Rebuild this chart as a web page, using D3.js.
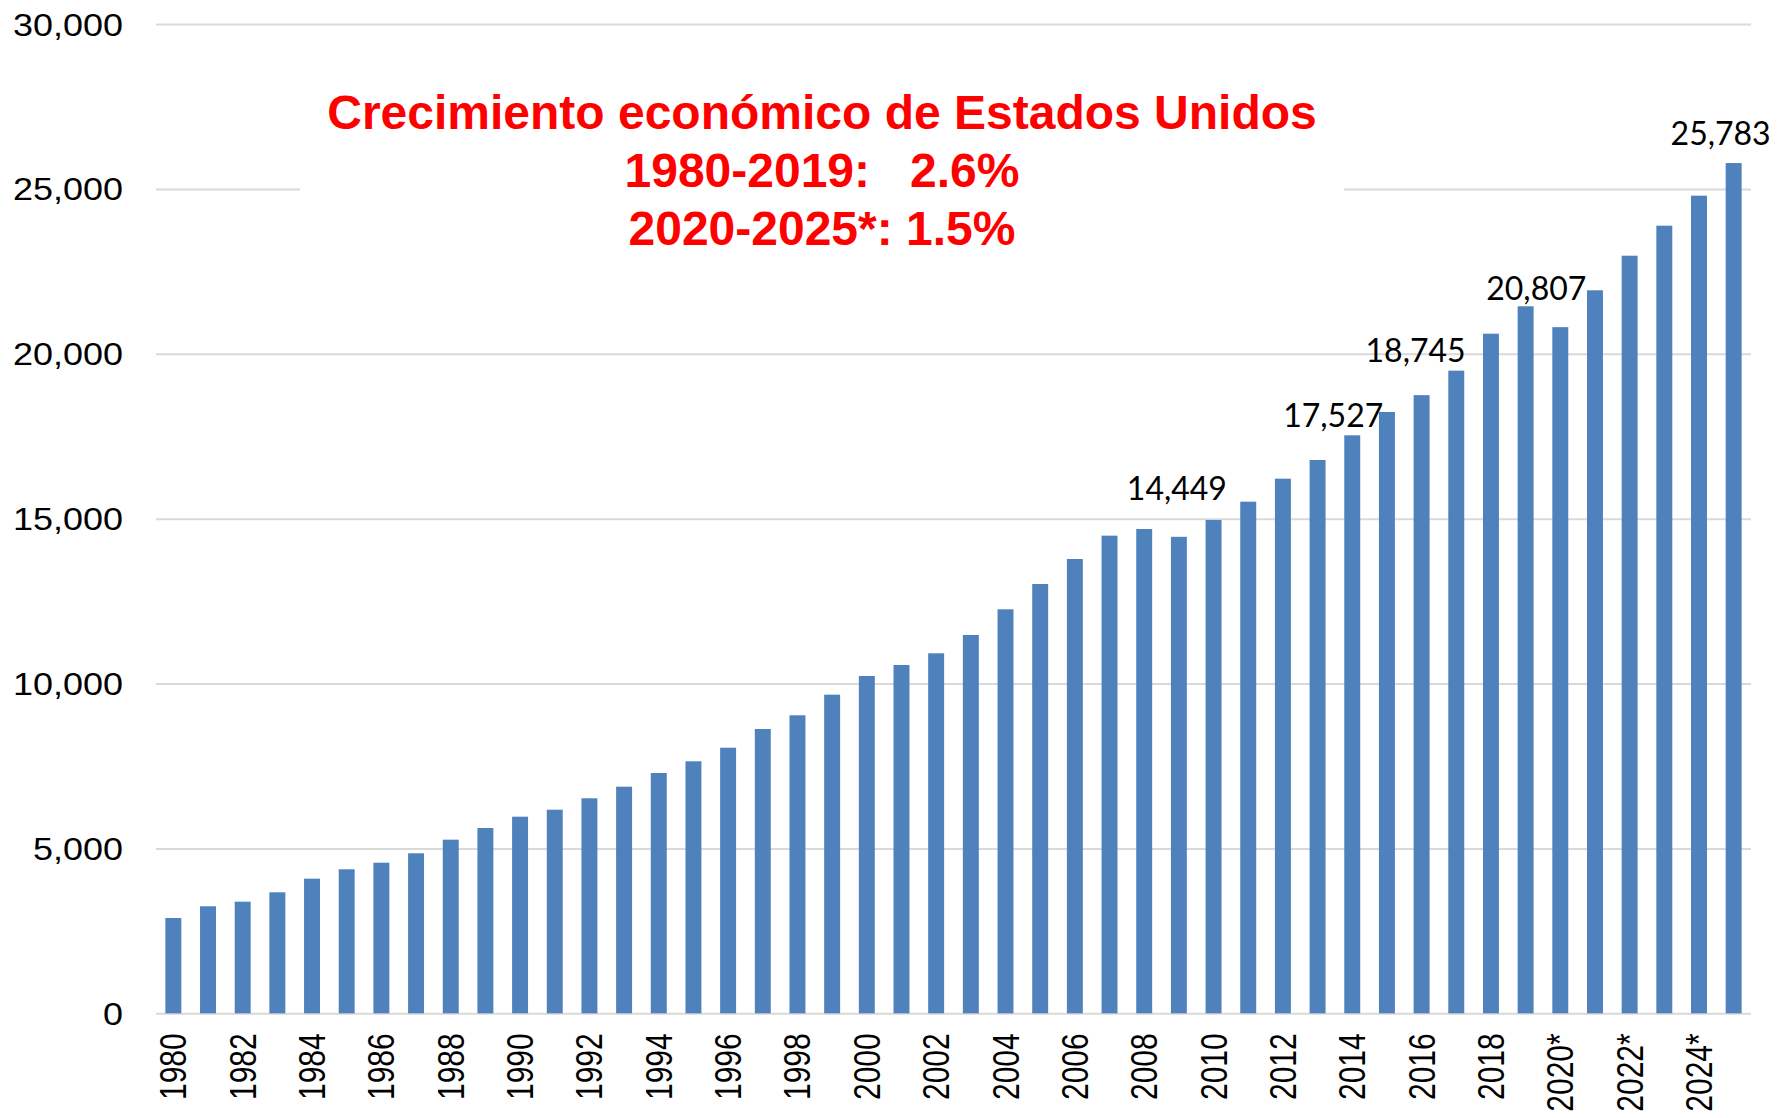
<!DOCTYPE html>
<html>
<head>
<meta charset="utf-8">
<script src="https://cdn.jsdelivr.net/npm/d3@7"></script>
<style>
  html, body { margin: 0; padding: 0; background: #ffffff; }
  svg { display: block; }
  text { white-space: pre; }
</style>
</head>
<body>
<svg id="chart" width="1786" height="1118"></svg>
<script>
// US GDP, billions of current dollars (* = estimate)
const years = ["1980","1981","1982","1983","1984","1985","1986","1987","1988","1989",
  "1990","1991","1992","1993","1994","1995","1996","1997","1998","1999",
  "2000","2001","2002","2003","2004","2005","2006","2007","2008","2009",
  "2010","2011","2012","2013","2014","2015","2016","2017","2018","2019",
  "2020*","2021*","2022*","2023*","2024*","2025*"];

const gdp = [2890, 3245, 3385, 3669, 4082, 4367, 4567, 4852, 5265, 5619,
  5962, 6174, 6520, 6872, 7287, 7642, 8054, 8621, 9037, 9662,
  10229, 10563, 10917, 11472, 12251, 13019, 13777, 14484, 14686, 14449,
  14960, 15515, 16212, 16779, 17527, 18235, 18745, 19488, 20609, 21440,
  20807, 21925, 22974, 23884, 24794, 25783];

// years whose value is printed above the bar
const labelledYears = ["2009", "2014", "2016", "2020*", "2025*"];
// nudges for those printed values: [dx, dy] from the bar top centre
const labelNudges = [[-2, -37], [-19, -8], [-6, -33], [-24, -27], [-13, -18]];

const yTicks = [0, 5000, 10000, 15000, 20000, 25000, 30000];
const xTickYears = years.filter((d, i) => i % 2 === 0);

const titleLines = ["Crecimiento económico de Estados Unidos",
                    "1980-2019:   2.6%",
                    "2020-2025*: 1.5%"];

const data = years.map((yr, i) => ({ year: yr, value: gdp[i] }));

const svg = d3.select("#chart");
const plotLeft = 156, plotRight = 1751, plotTop = 24, plotBottom = 1013.3;

const x = d3.scaleBand().domain(years).range([plotLeft, plotRight])
  .paddingInner(0.54).paddingOuter(0.27);
const y = d3.scaleLinear().domain([0, 30000]).range([plotBottom, plotTop]);

const axisFont = "'Liberation Sans', Arial, sans-serif";

// value axis with horizontal gridlines
const yAxis = svg.append("g")
  .attr("transform", `translate(${plotLeft},0)`)
  .call(d3.axisLeft(y).tickValues(yTicks).tickFormat(d3.format(","))
    .tickSize(-(plotRight - plotLeft)).tickPadding(0));
yAxis.select(".domain").remove();
yAxis.selectAll(".tick line").attr("stroke", "#d9d9d9").attr("stroke-width", 2);
yAxis.selectAll(".tick text")
  .attr("x", null).attr("dy", null)
  .attr("text-anchor", "end")
  .attr("transform", "translate(-33,11) scale(1.16,1)")
  .style("font-family", axisFont).style("font-size", "31px").attr("fill", "#000");

// white panel behind the headline
svg.append("rect")
  .attr("x", 300).attr("y", 80).attr("width", 1044).attr("height", 182)
  .attr("fill", "#ffffff");

// bars
svg.append("g").selectAll("rect").data(data).join("rect")
  .attr("x", d => x(d.year))
  .attr("y", d => y(d.value))
  .attr("width", x.bandwidth())
  .attr("height", d => y(0) - y(d.value))
  .attr("fill", "#4f81bd");

// category axis, rotated year labels
const xAxis = svg.append("g")
  .attr("transform", `translate(0,${plotBottom})`)
  .call(d3.axisBottom(x).tickValues(xTickYears).tickSize(0).tickPadding(0));
xAxis.select(".domain").remove();
xAxis.selectAll(".tick text")
  .attr("y", null).attr("dy", "0.35em")
  .attr("text-anchor", "end")
  .attr("transform", "translate(0,20) scale(1.24,1) rotate(-90)")
  .style("font-family", axisFont).style("font-size", "30px").attr("fill", "#000");

// printed values
const fmt = d3.format(",");
svg.append("g").selectAll("text")
  .data(labelledYears.map((yr, i) => ({ d: data.find(e => e.year === yr), n: labelNudges[i] })))
  .join("text")
  .attr("x", o => x(o.d.year) + x.bandwidth() / 2 + o.n[0])
  .attr("y", o => y(o.d.value) + o.n[1])
  .attr("text-anchor", "middle")
  .style("font-family", "Lato, 'Open Sans', sans-serif")
  .style("font-size", "32px")
  .attr("fill", "#000")
  .text(o => fmt(o.d.value));

// headline
svg.append("g").selectAll("text").data(titleLines).join("text")
  .attr("x", 822)
  .attr("y", (d, i) => 129 + i * 58)
  .attr("text-anchor", "middle")
  .style("font-family", axisFont)
  .style("font-weight", "bold")
  .style("font-size", "48px")
  .attr("fill", "#ff0000")
  .text(d => d);
</script>
</body>
</html>
